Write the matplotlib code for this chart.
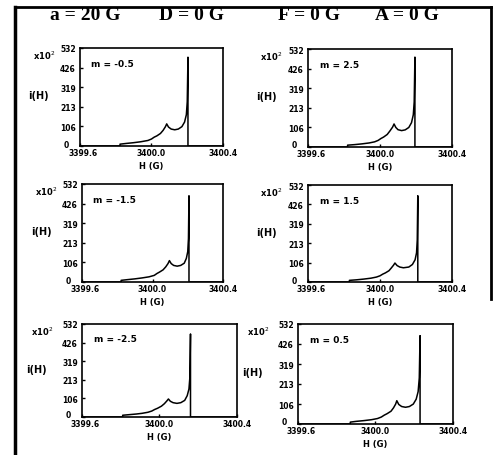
import matplotlib
matplotlib.use("Agg")
import matplotlib.pyplot as plt
from matplotlib.lines import Line2D
from matplotlib.transforms import ScaledTranslation

# ---------------- data ----------------
title_parts = ["a = 20 G", "D = 0 G", "F = 0 G", "A = 0 G"]
m_labels = ["m = -0.5", "m = 2.5", "m = -1.5", "m = 1.5", "m = -2.5", "m = 0.5"]
x_ticks = [3399.6, 3400.0, 3400.4]
x_ticklabels = ["3399.6", "3400.0", "3400.4"]
y_ticks = [0, 106, 213, 319, 426, 532]

H_m_m05 = [3399.60, 3399.824, 3399.824, 3399.86, 3399.90, 3399.94, 3399.98, 3400.00, 3400.015,
           3400.03, 3400.05, 3400.065, 3400.078, 3400.085, 3400.095, 3400.11, 3400.13, 3400.15,
           3400.17, 3400.185, 3400.195, 3400.200, 3400.204, 3400.204, 3400.40]
I_m_m05 = [0, 0, 10, 14, 18, 23, 30, 38, 48, 55, 68, 85, 105, 120, 103, 92, 88, 92, 105, 130,
           170, 240, 482, 0, 0]

H_m_p25 = [3399.60, 3399.820, 3399.820, 3399.86, 3399.90, 3399.94, 3399.97, 3399.99, 3400.005,
           3400.02, 3400.04, 3400.055, 3400.070, 3400.078, 3400.088, 3400.10, 3400.12, 3400.14,
           3400.16, 3400.175, 3400.185, 3400.190, 3400.194, 3400.194, 3400.40]
I_m_p25 = [0, 0, 10, 13, 17, 22, 28, 36, 46, 54, 68, 87, 108, 125, 106, 94, 89, 93, 106, 132,
           175, 245, 488, 0, 0]

H_m_m15 = [3399.60, 3399.822, 3399.822, 3399.86, 3399.90, 3399.94, 3399.98, 3400.01, 3400.025,
           3400.04, 3400.06, 3400.075, 3400.088, 3400.096, 3400.106, 3400.12, 3400.14, 3400.16,
           3400.18, 3400.192, 3400.200, 3400.204, 3400.207, 3400.207, 3400.40]
I_m_m15 = [0, 0, 9, 13, 17, 22, 28, 36, 46, 54, 66, 82, 100, 116, 100, 90, 86, 90, 102, 128,
           165, 235, 468, 0, 0]

H_m_p15 = [3399.60, 3399.830, 3399.830, 3399.87, 3399.91, 3399.95, 3399.98, 3400.00, 3400.015,
           3400.03, 3400.05, 3400.062, 3400.075, 3400.083, 3400.095, 3400.11, 3400.13, 3400.16,
           3400.18, 3400.195, 3400.203, 3400.207, 3400.210, 3400.210, 3400.40]
I_m_p15 = [0, 0, 9, 12, 16, 21, 27, 34, 43, 50, 62, 76, 92, 104, 90, 82, 78, 82, 96, 122,
           160, 230, 473, 0, 0]

H_m_m25 = [3399.60, 3399.810, 3399.810, 3399.84, 3399.88, 3399.91, 3399.94, 3399.96, 3399.975,
           3399.99, 3400.01, 3400.025, 3400.038, 3400.046, 3400.056, 3400.07, 3400.09, 3400.11,
           3400.13, 3400.143, 3400.152, 3400.157, 3400.160, 3400.160, 3400.40]
I_m_m25 = [0, 0, 10, 13, 17, 21, 27, 34, 43, 50, 62, 76, 92, 103, 90, 82, 78, 82, 95, 122,
           160, 230, 475, 0, 0]

H_m_p05 = [3399.60, 3399.870, 3399.870, 3399.90, 3399.94, 3399.98, 3400.01, 3400.03, 3400.045,
           3400.06, 3400.08, 3400.093, 3400.104, 3400.110, 3400.120, 3400.135, 3400.155, 3400.175,
           3400.195, 3400.210, 3400.220, 3400.226, 3400.230, 3400.230, 3400.40]
I_m_p05 = [0, 0, 10, 14, 18, 23, 29, 37, 47, 55, 68, 86, 106, 124, 104, 93, 89, 93, 106, 132,
           172, 245, 470, 0, 0]

series_H = [H_m_m05, H_m_p25, H_m_m15, H_m_p15, H_m_m25, H_m_p05]
series_I = [I_m_m05, I_m_p25, I_m_m15, I_m_p15, I_m_m25, I_m_p05]

# ---------------- layout (pixel boxes: x0, x1, y_top, y_bottom) ----------------
W, Hpx = 495, 456
boxes = [(80, 223, 49, 147), (308, 452, 50, 148),
         (82, 223, 185, 283), (308, 452, 186, 283),
         (82, 237, 325, 418), (298, 453, 325, 425)]

fig = plt.figure(figsize=(W / 100, Hpx / 100), dpi=100)
fig.patch.set_facecolor("white")

tick_font = dict(fontsize=5.5, fontweight="bold", family="DejaVu Sans")

for k, (x0, x1, yt, yb) in enumerate(boxes):
    ax = fig.add_axes([x0 / W, 1 - yb / Hpx, (x1 - x0) / W, (yb - yt) / Hpx])
    ax.plot(series_H[k], series_I[k], color="black", lw=1.1)
    ax.set_xlim(3399.6, 3400.4)
    ax.set_ylim(0, 532)
    ax.set_xticks(x_ticks)
    ax.set_xticklabels(x_ticklabels, **tick_font)
    ax.set_yticks(y_ticks)
    ax.set_yticklabels([str(v) for v in y_ticks], **tick_font)
    ax.tick_params(axis="both", length=2, width=1, direction="in")
    ax.tick_params(axis="x", pad=1.5)
    ax.tick_params(axis="y", pad=3)
    # shift the "0" label left/up like the original, and the first x label right
    lab0 = ax.get_yticklabels()[0]
    lab0.set_transform(lab0.get_transform() + ScaledTranslation(-7 / 100, 3 / 100, fig.dpi_scale_trans))
    labx0 = ax.get_xticklabels()[0]
    labx0.set_transform(labx0.get_transform() + ScaledTranslation(3 / 100, 0, fig.dpi_scale_trans))
    for s in ax.spines.values():
        s.set_linewidth(1.2)
    ax.set_xlabel("H (G)", fontsize=6, fontweight="bold", labelpad=3)
    ax.text(-0.36, 0.52, "i(H)", transform=ax.transAxes, fontsize=7, fontweight="bold",
            ha="left", va="center")
    ax.text(-0.33, 0.93, r"x10$^{2}$", transform=ax.transAxes, fontsize=6, fontweight="bold",
            ha="left", va="center")
    ax.text(0.08, 0.84, m_labels[k], transform=ax.transAxes, fontsize=6.5,
            fontweight="bold", ha="left", va="center")

# title row
title_x = [85, 191, 309, 407]
for t, xp in zip(title_parts, title_x):
    fig.text(xp / W, 1 - 15 / Hpx, t, fontsize=14, fontweight="bold",
             family="Liberation Serif", ha="center", va="center")

# scan frame
fig.add_artist(Line2D([15 / W, 15 / W], [0, 1 - 8 / Hpx], color="black", lw=2.5))
fig.add_artist(Line2D([15 / W, 491 / W], [1 - 8 / Hpx, 1 - 8 / Hpx], color="black", lw=2))
fig.add_artist(Line2D([491 / W, 491 / W], [1 - 8 / Hpx, 1 - 300 / Hpx], color="black", lw=2))

fig.savefig("out.png", dpi=100, facecolor="white")
